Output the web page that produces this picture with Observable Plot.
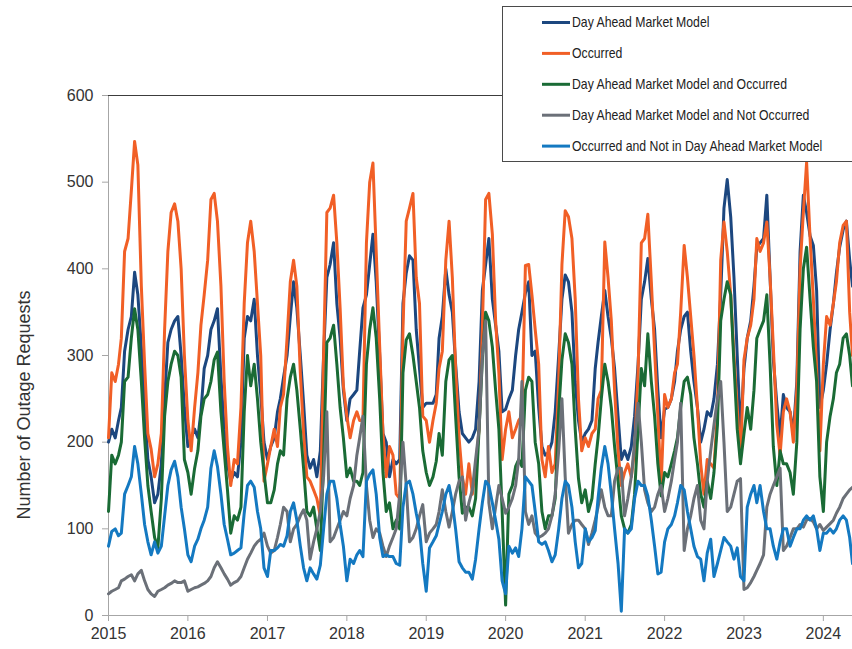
<!DOCTYPE html>
<html>
<head>
<meta charset="utf-8">
<script src="https://cdn.jsdelivr.net/npm/d3@7"></script>
<script src="https://cdn.jsdelivr.net/npm/@observablehq/plot@0.6"></script>
<style>
  html, body { margin: 0; padding: 0; background: #ffffff; }
  #chart { position: relative; width: 852px; height: 649px; overflow: hidden; }
  #chart svg { display: block; }
  g[aria-label^="x-axis"] line, g[aria-label^="x-axis"] path,
  g[aria-label^="y-axis"] line, g[aria-label^="y-axis"] path { stroke: #a6a6a6; }
  g[aria-label^="x-axis"] text, g[aria-label^="y-axis"] text { fill: #333333; font-size: 16px; }
</style>
</head>
<body>
<div id="chart"></div>
<script>
// ---- Series names and colours (legend order) ----
const seriesNames = [
  "Day Ahead Market Model",
  "Occurred",
  "Day Ahead Market Model and Occurred",
  "Day Ahead Market Model and Not Occurred",
  "Occurred and Not in Day Ahead Market Model"
];
const seriesColors = ["#1c477f", "#f15f26", "#1a6b35", "#6b7078", "#1479c1"];

// ---- Axis ticks ----
const yTicks = [0, 100, 200, 300, 400, 500, 600];
const yearTicks = [2015, 2016, 2017, 2018, 2019, 2020, 2021, 2022, 2023, 2024];
const yTitle = "Number of Outage Requests";

// ---- Values: two readings per month (1st and 16th), Jan 2015 .. May 2024 ----
const damModel = [
  200, 215, 205, 225, 240, 305, 330, 345, 396, 370, 310, 240, 180, 160, 130, 140, 175, 250, 315, 330, 340, 345, 300, 240,
  195, 205, 215, 205, 235, 285, 300, 330, 340, 354, 275, 215, 175, 155, 165, 160, 200, 320, 345, 340, 365, 300, 255, 200,
  180, 195, 205, 235, 250, 275, 300, 345, 385, 355, 300, 245, 185, 170, 180, 160, 190, 300, 390, 405, 430, 360, 320, 260,
  225, 250, 255, 260, 305, 355, 370, 405, 440, 385, 300, 210, 200, 160, 180, 175, 180, 360, 395, 415, 410, 330, 285, 240,
  245, 245, 245, 255, 320, 345, 400, 370, 350, 290, 235, 210, 205, 200, 205, 215, 270, 375, 405, 435, 365, 335, 305, 235,
  238, 250, 260, 300, 330, 350, 372, 385, 300, 305, 240, 195, 185, 188, 200, 235, 300, 365, 393, 385, 350, 270, 225, 200,
  210, 215, 225, 285, 315, 345, 375, 345, 320, 285, 230, 180, 190, 180, 195, 230, 290, 365, 385, 412, 365, 330, 260, 205,
  238, 240, 250, 270, 305, 330, 345, 350, 305, 270, 240, 200, 215, 235, 230, 250, 290, 370, 470, 503, 460, 390, 300, 210,
  285, 320, 340, 380, 425, 430, 435, 485, 390, 295, 245, 205, 255, 240, 235, 210, 270, 420, 485, 465, 438, 427, 375, 240,
  260, 290, 330, 360, 395, 425, 445, 455, 410, 380
];
const occurred = [
  205, 280, 270, 290, 320, 420, 435, 490, 547, 520, 380, 290, 210, 192, 160, 175, 210, 330, 420, 465, 475, 455, 400, 300,
  225, 190, 240, 280, 335, 370, 410, 480, 487, 455, 380, 270, 195, 150, 180, 175, 240, 360, 430, 455, 420, 360, 300, 155,
  175, 195, 215, 195, 240, 255, 320, 385, 410, 380, 280, 210, 160, 155, 145, 135, 115, 300, 465, 470, 485, 430, 355, 265,
  230, 205, 225, 235, 225, 225, 430, 500, 522, 420, 310, 210, 160, 195, 185, 140, 135, 330, 455, 470, 487, 390, 360, 230,
  225, 200, 225, 245, 285, 305, 410, 455, 390, 285, 205, 160, 140, 175, 140, 170, 215, 330, 480, 487, 440, 340, 280, 180,
  215, 235, 205, 215, 225, 230, 404, 405, 370, 330, 290, 180, 160, 195, 165, 175, 270, 405, 467, 460, 435, 365, 250, 190,
  205, 195, 210, 215, 250, 260, 431, 390, 340, 260, 190, 150, 165, 175, 160, 190, 280, 430, 435, 463, 385, 305, 230, 150,
  255, 240, 250, 280, 290, 350, 427, 390, 345, 300, 240, 175, 140, 180, 175, 170, 235, 410, 454, 420, 370, 300, 240, 180,
  295, 320, 335, 365, 435, 420, 430, 454, 390, 310, 220, 185, 235, 250, 235, 200, 260, 400, 465, 523, 435, 365, 285, 190,
  290, 345, 335, 360, 385, 430, 450, 455, 350, 300
];
const damAndOccurred = [
  120, 185, 175, 185, 200, 270, 275, 320, 354, 330, 270, 205, 150, 120, 90, 78, 135, 230, 270, 290, 305, 300, 275, 180,
  165, 140, 170, 190, 230, 250, 255, 270, 295, 304, 235, 190, 145, 95, 115, 110, 125, 235, 300, 265, 290, 250, 200, 165,
  130, 130, 145, 175, 190, 185, 250, 275, 290, 260, 215, 170, 120, 115, 125, 100, 75, 180, 315, 320, 335, 290, 240, 205,
  160, 170, 155, 155, 150, 165, 290, 330, 355, 320, 250, 165, 120, 130, 100, 110, 100, 280, 318, 325, 300, 270, 240, 190,
  165, 150, 160, 178, 210, 185, 270, 295, 300, 230, 160, 118, 125, 125, 115, 135, 215, 295, 350, 340, 310, 260, 215, 120,
  12, 140, 150, 172, 180, 172, 260, 275, 270, 200, 175, 120, 100, 115, 115, 135, 235, 295, 325, 315, 290, 215, 158, 130,
  145, 120, 135, 175, 205, 250, 290, 270, 240, 195, 155, 115, 100, 95, 105, 140, 215, 285, 265, 325, 270, 230, 175, 138,
  165, 160, 175, 190, 205, 240, 270, 275, 255, 205, 175, 140, 125, 155, 135, 165, 220, 340, 365, 385, 370, 290, 215, 175,
  210, 240, 215, 260, 320, 330, 340, 370, 290, 195, 150, 190, 175, 175, 165, 140, 200, 330, 400, 425, 365, 310, 270, 160,
  120, 200, 230, 250, 280, 290, 320, 325, 300, 265
];
const damNotOccurred = [
  25, 28, 30, 32, 40, 42, 45, 47, 40, 48, 52, 40, 30, 25, 22, 28, 30, 32, 35, 37, 40, 38, 38, 40,
  28, 30, 32, 33, 35, 37, 40, 45, 55, 62, 55, 48, 42, 35, 38, 40, 45, 55, 65, 72, 80, 85, 88, 95,
  80, 72, 75, 90, 105, 125, 120, 85, 100, 105, 115, 122, 110, 65, 85, 100, 120, 160, 235, 85, 90, 100, 110, 120,
  115, 135, 150, 185, 205, 230, 150, 110, 90, 100, 95, 80, 68, 80, 90, 100, 140, 200, 150, 85, 90, 100, 115, 128,
  85, 95, 100, 105, 120, 145, 120, 102, 120, 140, 155, 160, 110, 130, 145, 180, 215, 300, 340, 130, 100, 125, 150, 135,
  118, 125, 135, 150, 180, 270, 120, 105, 115, 95, 90, 92, 95, 100, 115, 140, 190, 250, 160, 95, 105, 110, 110, 105,
  100, 82, 95, 110, 125, 145, 125, 115, 115, 155, 170, 170, 115, 135, 160, 200, 245, 200, 145, 130, 120, 125, 140, 150,
  120, 135, 155, 180, 200, 245, 75, 100, 115, 135, 150, 110, 100, 155, 190, 220, 250, 270, 200, 120, 125, 140, 155, 158,
  30, 32, 38, 45, 52, 60, 70, 125, 140, 150, 160, 170, 75, 80, 90, 100, 100, 105, 102, 110, 112, 108, 100, 105,
  98, 102, 106, 110, 118, 125, 135, 140, 145, 148
];
const occurredNotDam = [
  80, 97, 100, 92, 95, 140, 150, 160, 195, 175, 140, 105, 85, 70, 85, 72, 80, 115, 150, 168, 178, 160, 125, 100,
  70, 62, 80, 88, 100, 110, 125, 170, 190, 172, 140, 105, 88, 70, 72, 75, 78, 118, 150, 155, 148, 120, 100, 55,
  45, 75, 75, 78, 82, 80, 92, 120, 130, 110, 80, 55, 40, 55, 48, 42, 58, 100, 140, 155, 155, 135, 105, 80,
  40, 65, 60, 70, 75, 68, 155, 163, 168, 140, 90, 68, 70, 68, 68, 60, 58, 125, 152, 155, 140, 118, 100, 60,
  28, 78, 85, 92, 105, 120, 140, 150, 130, 100, 62, 55, 50, 50, 42, 65, 100, 130, 155, 150, 130, 110, 88, 40,
  25, 80, 72, 78, 68, 100, 160, 155, 150, 120, 85, 82, 85, 75, 62, 70, 100, 135, 155, 150, 125, 85, 55, 60,
  100, 85, 90, 98, 135, 170, 195, 175, 140, 100, 60, 5, 100, 95, 100, 135, 155, 150, 150, 138, 110, 80, 48, 50,
  85, 100, 105, 115, 130, 150, 145, 120, 100, 80, 68, 65, 40, 72, 88, 45, 60, 75, 90, 85, 80, 65, 78, 45,
  40, 125, 140, 150, 130, 150, 120, 100, 100, 80, 65, 85, 100, 100, 80, 90, 100, 100, 110, 115, 110, 115, 100, 75,
  95, 95, 100, 95, 100, 110, 115, 110, 90, 60
];

// ---- Build table ----
const xStart = new Date(Date.UTC(2015, 0, 1));
const xEnd = new Date(Date.UTC(2024, 4, 14));
const nPts = damModel.length;
const dates = d3.range(nPts).map(i => {
  if (i === nPts - 1) return xEnd;
  const year = 2015 + Math.floor(i / 24);
  const month = Math.floor((i % 24) / 2);
  return new Date(Date.UTC(year, month, i % 2 ? 16 : 1));
});
const seriesValues = [damModel, occurred, damAndOccurred, damNotOccurred, occurredNotDam];
const rows = [];
seriesNames.forEach((name, s) => {
  seriesValues[s].forEach((v, i) => rows.push({series: name, date: dates[i], value: v}));
});
const yearDates = yearTicks.map(y => new Date(Date.UTC(y, 0, 1)));

const chart = Plot.plot({
  width: 852,
  height: 649,
  marginLeft: 108,
  marginRight: 0,
  marginTop: 95,
  marginBottom: 34,
  style: {
    fontFamily: "'Liberation Sans', Arial, Helvetica, sans-serif",
    fontSize: "16px",
    color: "#333333",
    background: "#ffffff",
    overflow: "visible"
  },
  x: {
    type: "utc",
    domain: [xStart, xEnd],
    ticks: yearDates,
    tickFormat: d => String(d.getUTCFullYear()),
    tickSize: 6,
    tickPadding: 6,
    label: null
  },
  y: {
    domain: [0, 600],
    ticks: yTicks,
    tickSize: 6,
    tickPadding: 9,
    label: null
  },
  color: {domain: seriesNames, range: seriesColors},
  marks: [
    Plot.ruleY([0], {stroke: "#a6a6a6"}),
    Plot.ruleX([xStart], {stroke: "#a6a6a6"}),
    Plot.ruleY([600], {stroke: "#3c3c3c"}),
    Plot.line(rows, {
      x: "date",
      y: "value",
      z: "series",
      stroke: "series",
      strokeWidth: 3,
      strokeLinejoin: "round",
      strokeLinecap: "round"
    })
  ]
});

document.getElementById("chart").appendChild(chart);

const svg = d3.select(chart);

// y-axis title
svg.append("text")
  .attr("transform", "translate(24,405) rotate(-90)")
  .attr("text-anchor", "middle")
  .attr("dominant-baseline", "central")
  .style("font-family", "'Liberation Sans', Arial, sans-serif")
  .style("font-size", "18px")
  .style("fill", "#333333")
  .text(yTitle);

// legend box
const lg = svg.append("g").attr("class", "legend").attr("text-anchor", "start");
lg.append("rect")
  .attr("x", 502.5).attr("y", 6.5)
  .attr("width", 400).attr("height", 155)
  .attr("fill", "#ffffff")
  .attr("stroke", "#4a4a4a")
  .attr("stroke-width", 1);
seriesNames.forEach((name, i) => {
  const cy = 22.5 + i * 30.9;
  lg.append("line")
    .attr("x1", 542).attr("x2", 570)
    .attr("y1", cy).attr("y2", cy)
    .attr("stroke", seriesColors[i])
    .attr("stroke-width", 3);
  lg.append("text")
    .attr("transform", `translate(572,${cy}) scale(0.875,1)`)
    .attr("text-anchor", "start")
    .attr("dominant-baseline", "central")
    .style("font-family", "'Liberation Sans', Arial, sans-serif")
    .style("font-size", "14px")
    .style("fill", "#222222")
    .text(name);
});
</script>
</body>
</html>
